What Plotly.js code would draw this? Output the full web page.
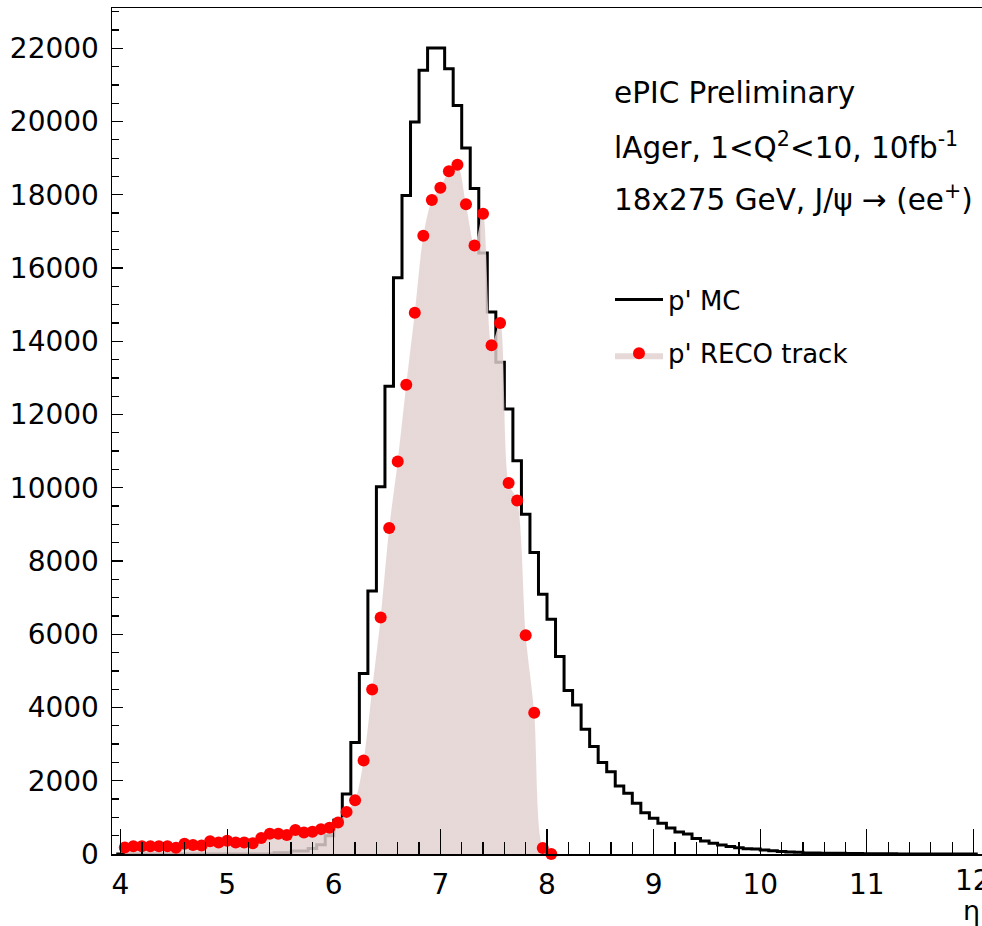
<!DOCTYPE html>
<html>
<head>
<meta charset="utf-8">
<script src="https://cdn.plot.ly/plotly-3.0.1.min.js"></script>
<style>html,body{margin:0;padding:0;background:#fff;}#chart{width:982px;height:926px;}</style>
</head>
<body>
<div id="chart"></div>
<script>
// MC histogram: bin centres (bin width 0.08) and contents
const mcEta = [
  3.96, 4.04, 4.12, 4.20, 4.28, 4.36, 4.44, 4.52, 4.60, 4.68,
  4.76, 4.84, 4.92, 5.00, 5.08, 5.16, 5.24, 5.32, 5.40, 5.48,
  5.56, 5.64, 5.72, 5.80, 5.88, 5.96, 6.04, 6.12, 6.20, 6.28,
  6.36, 6.44, 6.52, 6.60, 6.68, 6.76, 6.84, 6.92, 7.00, 7.08,
  7.16, 7.24, 7.32, 7.40, 7.48, 7.56, 7.64, 7.72, 7.80, 7.88,
  7.96, 8.04, 8.12, 8.20, 8.28, 8.36, 8.44, 8.52, 8.60, 8.68,
  8.76, 8.84, 8.92, 9.00, 9.08, 9.16, 9.24, 9.32, 9.40, 9.48,
  9.56, 9.64, 9.72, 9.80, 9.88, 9.96, 10.04, 10.12, 10.20, 10.28,
  10.36, 10.44, 10.52, 10.60, 10.68, 10.76, 10.84, 10.92, 11.00, 11.08,
  11.16, 11.24, 11.32, 11.40, 11.48, 11.56, 11.64, 11.72, 11.80, 11.88,
  11.96, 12.04
];
const mcCounts = [
  0, 0, 0, 0, 0, 0, 0, 0, 0, 0,
  0, 0, 0, 0, 0, 0, 0, 0, 0, 36,
  36, 82, 82, 150, 250, 500, 920, 1640, 3046, 4930,
  7180, 10025, 12770, 15735, 17980, 19990, 21400, 22010, 22010, 21440,
  20435, 19280, 18170, 16410, 14800, 13425, 12150, 10735, 9280, 8230,
  7095, 6412, 5391, 4462, 4071, 3406, 2932, 2495, 2249, 1858,
  1658, 1385, 1129, 975, 838, 710, 600, 545, 420, 355,
  295, 246, 205, 172, 140, 135, 109, 90, 65, 55,
  48, 28, 24, 22, 20, 18, 16, 14, 6, 5,
  4, 4, 3, 3, 2, 2, 2, 1, 1, 1,
  1, 0
];
// RECO track histogram: bin centres and contents
const recoEta = [
  4.04, 4.12, 4.20, 4.28, 4.36, 4.44, 4.52, 4.60, 4.68, 4.76,
  4.84, 4.92, 5.00, 5.08, 5.16, 5.24, 5.32, 5.40, 5.48, 5.56,
  5.64, 5.72, 5.80, 5.88, 5.96, 6.04, 6.12, 6.20, 6.28, 6.36,
  6.44, 6.52, 6.60, 6.68, 6.76, 6.84, 6.92, 7.00, 7.08, 7.16,
  7.24, 7.32, 7.40, 7.48, 7.56, 7.64, 7.72, 7.80, 7.88, 7.96,
  8.04
];
const recoCounts = [
  180, 210, 210, 210, 210, 210, 170, 280, 245, 235,
  345, 315, 360, 315, 315, 292, 437, 552, 556, 519,
  656, 588, 609, 679, 719, 860, 1150, 1470, 2550, 4490,
  6460, 8900, 10720, 12810, 14780, 16880, 17860, 18195, 18640, 18823,
  17740, 16615, 17485, 13890, 14500, 10130, 9650, 5970, 3856, 164,
  0
];
const xTicks = [4, 5, 6, 7, 8, 9, 10, 11, 12];
const yTicks = [0, 2000, 4000, 6000, 8000, 10000, 12000, 14000, 16000, 18000, 20000, 22000];
const labelMC = "p' MC";
const labelReco = "p' RECO track";
const textLines = [
  "ePIC Preliminary",
  "lAger, 1&lt;Q<sup>2</sup>&lt;10, 10fb<sup>-1</sup>",
  "18x275 GeV, J/ψ → (ee<sup>+</sup>)"
];
const xTitle = "η";

const FONT = "DejaVu Sans, Arial, sans-serif";

const traces = [
  {
    type: 'scatter', mode: 'lines', name: labelMC, legendgroup: 'mc',
    x: mcEta, y: mcCounts,
    line: {color: '#000000', width: 3, shape: 'hvh'},
    hoverinfo: 'x+y'
  },
  {
    type: 'scatter', mode: 'lines+markers', name: labelReco, legendgroup: 'reco',
    x: recoEta, y: recoCounts,
    line: {color: 'rgba(0,0,0,0)', width: 0, shape: 'spline', smoothing: 0.8},
    fill: 'tozeroy',
    fillcolor: 'rgba(225,205,205,0.8)',
    fillpattern: {shape: '|', size: 2, solidity: 0.45, fgcolor: 'rgba(196,160,160,0.75)', bgcolor: 'rgba(236,222,222,0.8)', fillmode: 'overlay'},
    marker: {color: '#ff0000', size: 12, line: {width: 0}},
    cliponaxis: false,
    hoverinfo: 'x+y'
  }
];

const W = 982, H = 926, ML = 112, MR = 0, MT = 8, MB = 72;
const PW = W - ML - MR, PH = H - MT - MB;
function px2x(px) { return (px - ML) / PW; }
function py2y(py) { return (H - MB - py) / PH; }

const TF = {family: FONT, size: 29.5, color: '#000'};
const annotations = [
  {text: textLines[0], x: px2x(612), y: py2y(93), xref: 'paper', yref: 'paper', xanchor: 'left', yanchor: 'middle', showarrow: false, font: TF},
  {text: textLines[1], x: px2x(612), y: py2y(146), xref: 'paper', yref: 'paper', xanchor: 'left', yanchor: 'middle', showarrow: false, font: TF},
  {text: textLines[2], x: px2x(612), y: py2y(198), xref: 'paper', yref: 'paper', xanchor: 'left', yanchor: 'middle', showarrow: false, font: TF},
  {text: xTitle, x: 1, y: py2y(911), xref: 'paper', yref: 'paper', xanchor: 'right', yanchor: 'middle', showarrow: false, font: {family: FONT, size: 27, color: '#000'}},
  // last x tick label, cut by the right edge as in the reference
  {text: String(xTicks[xTicks.length - 1]), x: xTicks[xTicks.length - 1], y: py2y(880), xref: 'x', yref: 'paper', xanchor: 'center', yanchor: 'middle', showarrow: false, font: {family: FONT, size: 28, color: '#000'}}
];

const layout = {
  width: W, height: H,
  margin: {l: ML, r: MR, t: MT, b: MB, pad: 0},
  paper_bgcolor: '#ffffff', plot_bgcolor: '#ffffff',
  font: {family: FONT, size: 28, color: '#000'},
  showlegend: true,
  legend: {
    x: px2x(610), y: py2y(276), xanchor: 'left', yanchor: 'top',
    bgcolor: 'rgba(0,0,0,0)', borderwidth: 0,
    font: {family: FONT, size: 26, color: '#000'},
    traceorder: 'grouped', tracegroupgap: 17, itemwidth: 48
  },
  xaxis: {
    range: [3.92, 12.08], tickvals: xTicks, ticktext: xTicks.map(String),
    ticks: 'inside', ticklen: 25, tickwidth: 1.3, tickcolor: '#000',
    minor: {dtick: 0.2, tick0: 4, ticks: 'inside', ticklen: 12, tickwidth: 1.3, tickcolor: '#000', showgrid: false},
    showline: true, linecolor: '#000', linewidth: 1.5, mirror: true,
    showgrid: false, zeroline: false, ticklabelstandoff: 5,
    tickfont: {family: FONT, size: 28, color: '#000'}
  },
  yaxis: {
    range: [0, 23100], tickvals: yTicks, ticktext: yTicks.map(String),
    ticks: 'inside', ticklen: 11, tickwidth: 1.3, tickcolor: '#000',
    minor: {dtick: 500, tick0: 0, ticks: 'inside', ticklen: 7, tickwidth: 1.3, tickcolor: '#000', showgrid: false},
    showline: true, linecolor: '#000', linewidth: 1.5, mirror: true,
    showgrid: false, zeroline: false, ticklabelstandoff: 6,
    tickfont: {family: FONT, size: 28, color: '#000'}
  },
  annotations: annotations
};

Plotly.newPlot('chart', traces, layout, {displayModeBar: false, staticPlot: true});
</script>
</body>
</html>
